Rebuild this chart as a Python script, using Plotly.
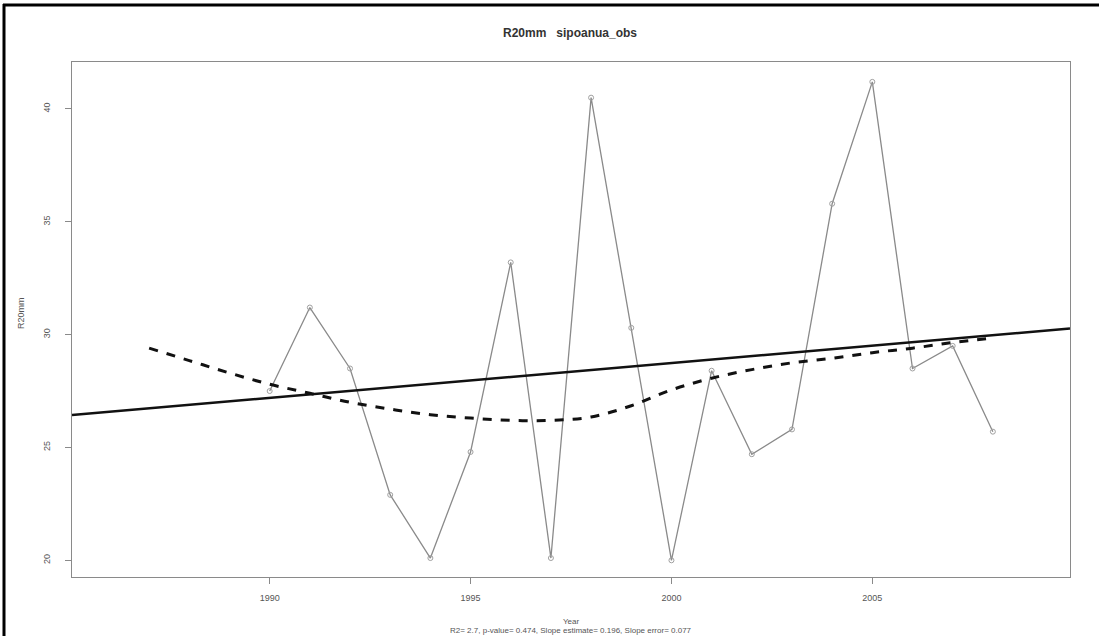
import plotly.graph_objects as go

# ---- data ----
years = list(range(1990, 2009))
r20mm = [27.5, 31.2, 28.5, 22.9, 20.1, 24.8, 33.2, 20.1, 40.5, 30.3, 20.0,
         28.4, 24.7, 25.8, 35.8, 41.2, 28.5, 29.5, 25.7]

smooth_years = list(range(1987, 2009))
smooth_values = [29.4, 28.85, 28.3, 27.8, 27.4, 27.0, 26.7, 26.45, 26.3, 26.2, 26.2,
                 26.35, 26.85, 27.55, 28.07, 28.45, 28.75, 28.95, 29.2, 29.4, 29.65, 29.85]

trend_years = [1985.08, 2009.92]
trend_values = [26.44, 30.27]

x_ticks = [1990, 1995, 2000, 2005]
y_ticks = [20, 25, 30, 35, 40]

title_text = "R20mm   sipoanua_obs"
x_title = "Year"
y_title = "R20mm"
stats_text = "R2= 2.7, p-value= 0.474, Slope estimate= 0.196, Slope error= 0.077"

# ---- figure ----
W, H = 1099, 636
L, R, T, B = 72, 29, 62, 59
pw, ph = W - L - R, H - T - B

def px(x):
    return (x - L) / pw

def py(y):
    return (H - B - y) / ph

fig = go.Figure()
fig.add_trace(go.Scatter(
    x=years, y=r20mm, mode="lines+markers",
    line=dict(color="#8a8a8a", width=1.3),
    marker=dict(symbol="circle-open", size=5, color="#a0a0a0", line=dict(width=1)),
    showlegend=False))
fig.add_trace(go.Scatter(
    x=trend_years, y=trend_values, mode="lines",
    line=dict(color="#111111", width=2.6), showlegend=False))
fig.add_trace(go.Scatter(
    x=smooth_years, y=smooth_values, mode="lines",
    line=dict(color="#111111", width=3, dash="dash", shape="spline"),
    showlegend=False))

font_family = "Liberation Sans, Arial, sans-serif"
axis_common = dict(showline=True, linecolor="#8a8a8a", linewidth=1, mirror=True,
                   ticks="outside", ticklen=6, tickcolor="#8a8a8a",
                   showgrid=False, zeroline=False,
                   tickfont=dict(family=font_family, size=9, color="#555555"))

fig.update_layout(
    width=W, height=H,
    margin=dict(l=L, r=R, t=T, b=B),
    paper_bgcolor="white", plot_bgcolor="white",
    xaxis=dict(range=[1985.08, 2009.92], tickvals=x_ticks, ticklabelstandoff=6, **axis_common),
    yaxis=dict(range=[19.26, 42.08], tickvals=y_ticks, tickangle=-90, ticklabelstandoff=11,
               **axis_common),
    annotations=[
        dict(text="<b>" + title_text + "</b>", x=px(570), y=py(33), xref="paper", yref="paper",
             showarrow=False, xanchor="center", yanchor="middle",
             font=dict(family=font_family, size=12, color="#333333")),
        dict(text=y_title, x=px(21), y=py(313), xref="paper", yref="paper",
             showarrow=False, textangle=-90, xanchor="center", yanchor="middle",
             font=dict(family=font_family, size=9, color="#555555")),
        dict(text=x_title, x=px(571), y=py(621), xref="paper", yref="paper",
             showarrow=False, xanchor="center", yanchor="middle",
             font=dict(family=font_family, size=8, color="#555555")),
        dict(text=stats_text, x=px(571), y=py(630), xref="paper", yref="paper",
             showarrow=False, xanchor="center", yanchor="middle",
             font=dict(family=font_family, size=8, color="#555555")),
    ],
    shapes=[
        dict(type="line", xref="paper", yref="paper", x0=px(3), x1=px(1099), y0=py(5), y1=py(5),
             line=dict(color="black", width=3)),
        dict(type="line", xref="paper", yref="paper", x0=px(4), x1=px(4), y0=py(4), y1=py(636),
             line=dict(color="black", width=3)),
    ],
)

fig.write_html("out.html", config={"displayModeBar": False},
               post_script="document.body.style.margin='0px';document.body.style.overflow='hidden';")
